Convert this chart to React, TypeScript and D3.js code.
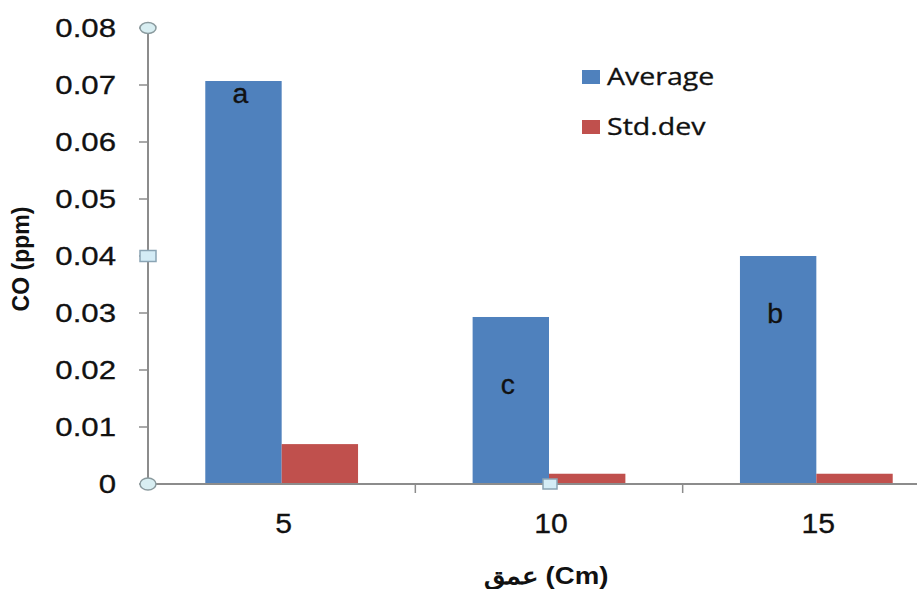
import React from "react";
import * as d3 from "d3";

const categories = ["5", "10", "15"];
const seriesNames = ["Average", "Std.dev"];
const averageValues = [0.0707, 0.0293, 0.04];
const stdDevValues = [0.007, 0.0018, 0.0018];
const letterLabels = ["a", "c", "b"];
const letterLabelValues = [0.0668, 0.0158, 0.0282];
const yTicks = [0, 0.01, 0.02, 0.03, 0.04, 0.05, 0.06, 0.07, 0.08];
const yTitle = "CO (ppm)";
const xTitle = "عمق (Cm)";

const W = 917;
const H = 589;
const colors = ["#4F81BD", "#C0504D"];
const axisColor = "#8C8C8C";

export default function App() {
  const x0 = 148;
  const yScale = d3.scaleLinear().domain([0, 0.08]).range([484, 28]);
  const xBand = d3.scaleBand<string>().domain(categories).range([x0, 950]).paddingInner(0).paddingOuter(0);
  const xSub = d3
    .scaleBand<string>()
    .domain(seriesNames)
    .range([0, xBand.bandwidth()])
    .paddingInner(0)
    .paddingOuter(0.75);
  const seriesData = [averageValues, stdDevValues];

  const bodyFont = "'Liberation Sans', Arial, sans-serif";
  const legendFont = "'Open Sans', sans-serif";
  const ink = "#111";

  return (
    <svg
      width={W}
      height={H}
      viewBox={`0 0 ${W} ${H}`}
      style={{ position: "fixed", left: 0, top: 0, background: "#fff" }}
    >
      <rect x={0} y={0} width={W} height={H} fill="#fff" />
      {/* bars */}
      {seriesNames.map((s, si) =>
        categories.map((c, ci) => {
          const v = seriesData[si][ci];
          const bx = (xBand(c) as number) + (xSub(s) as number);
          return (
            <rect
              key={s + c}
              x={bx}
              y={yScale(v)}
              width={xSub.bandwidth()}
              height={yScale(0) - yScale(v)}
              fill={colors[si]}
            />
          );
        })
      )}
      {/* letter labels */}
      {categories.map((c, ci) => {
        const cx = (xBand(c) as number) + (xSub("Average") as number) + xSub.bandwidth() / 2;
        return (
          <text
            key={"l" + c}
            transform={`translate(${cx - 3},${yScale(letterLabelValues[ci])}) scale(1.05,1)`}
            textAnchor="middle"
            fontFamily={bodyFont}
            fontSize={27}
            fill={ink}
            stroke={ink}
            strokeWidth={0.3}
          >
            {letterLabels[ci]}
          </text>
        );
      })}
      {/* y axis */}
      <line x1={x0} x2={x0} y1={yScale(0.08)} y2={yScale(0)} stroke={axisColor} strokeWidth={2} />
      {yTicks.map((t) => (
        <g key={"yt" + t}>
          <line x1={x0 - 9} x2={x0} y1={yScale(t)} y2={yScale(t)} stroke={axisColor} strokeWidth={1.5} />
          <text
            transform={`translate(116,${yScale(t) + 9}) scale(1.2,1)`}
            textAnchor="end"
            fontFamily={bodyFont}
            fontSize={26}
            fill={ink}
            stroke={ink}
            strokeWidth={0.3}
          >
            {t === 0 ? "0" : d3.format(".2f")(t)}
          </text>
        </g>
      ))}
      {/* x axis */}
      <line x1={x0} x2={W} y1={yScale(0)} y2={yScale(0)} stroke={axisColor} strokeWidth={2} />
      {categories.map((c, i) =>
        i === 0 ? null : (
          <line
            key={"xt" + c}
            x1={xBand(c) as number}
            x2={xBand(c) as number}
            y1={yScale(0)}
            y2={yScale(0) + 9}
            stroke={axisColor}
            strokeWidth={1.5}
          />
        )
      )}
      {categories.map((c) => (
        <text
          key={"xl" + c}
          transform={`translate(${(xBand(c) as number) + xBand.bandwidth() / 2 + 2},533) scale(1.12,1)`}
          textAnchor="middle"
          fontFamily={bodyFont}
          fontSize={27}
          fill={ink}
          stroke={ink}
          strokeWidth={0.3}
        >
          {c}
        </text>
      ))}
      {/* axis titles */}
      <text
        transform={`translate(29,259) rotate(-90)`}
        textAnchor="middle"
        fontFamily={bodyFont}
        fontWeight="bold"
        fontSize={23}
        fill={ink}
      >
        {yTitle}
      </text>
      <text
        transform={`translate(546,584) scale(1.2,1)`}
        textAnchor="middle"
        fontFamily={bodyFont}
        fontWeight="bold"
        fontSize={23}
        fill={ink}
      >
        {xTitle}
      </text>
      {/* legend */}
      {seriesNames.map((s, i) => (
        <g key={"lg" + s} transform={`translate(582,${70 + i * 50})`}>
          <rect x={0} y={0} width={18} height={14} fill={colors[i]} />
          <text
            transform={`translate(25,15) scale(1.24,1)`}
            fontFamily={legendFont}
            fontSize={23}
            fill={ink}
            stroke={ink}
            strokeWidth={0.3}
          >
            {s}
          </text>
        </g>
      ))}
      {/* selection handles */}
      <ellipse cx={x0} cy={yScale(0.08)} rx={8} ry={5.5} fill="#d8eef2" stroke="#8a9a9e" strokeWidth={1.5} />
      <rect x={x0 - 8} y={yScale(0.04) - 5.5} width={16} height={11} fill="#d4ecf6" stroke="#8aa4b4" strokeWidth={1.5} />
      <ellipse cx={x0} cy={yScale(0)} rx={8} ry={6} fill="#d8eef2" stroke="#8a9a9e" strokeWidth={1.5} />
      <rect x={543} y={yScale(0) - 5} width={14} height={10} fill="#d4ecf6" stroke="#8aa4b4" strokeWidth={1.5} />
    </svg>
  );
}
